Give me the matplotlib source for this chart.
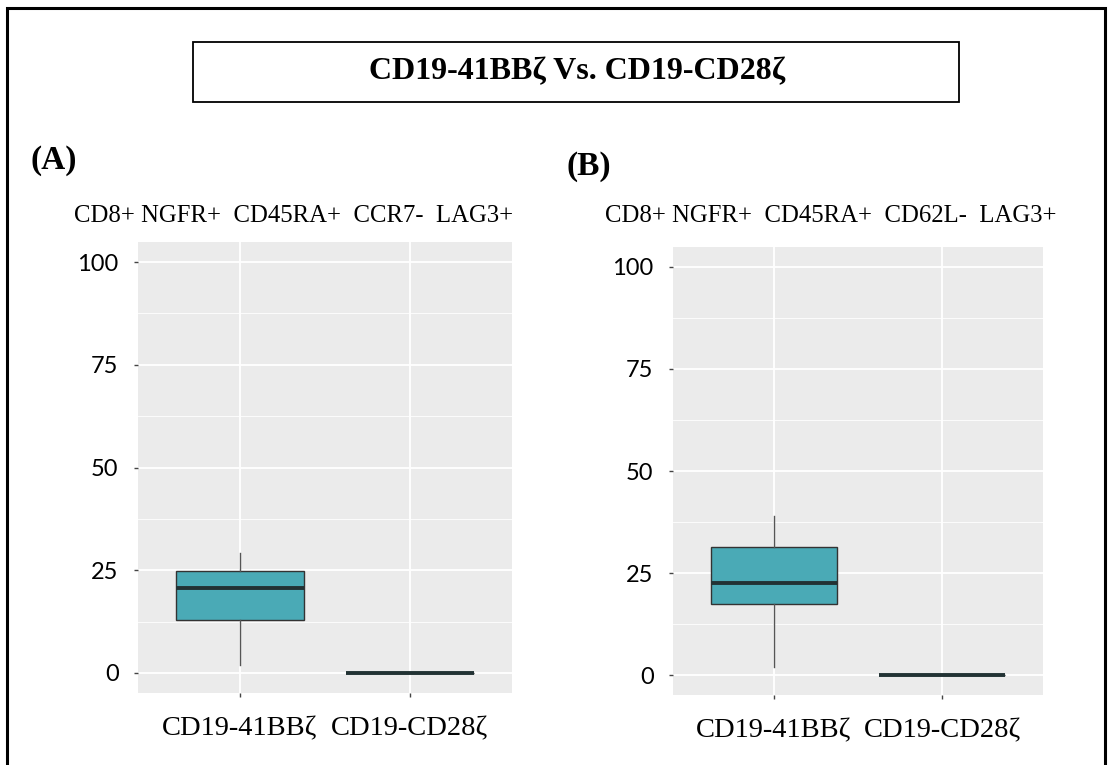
import matplotlib
matplotlib.use("Agg")
import matplotlib.pyplot as plt
from matplotlib.patches import Rectangle
from matplotlib.ticker import MultipleLocator

# Box summary statistics for each construct (percent of cells)
groups = ["CD19-41BBζ", "CD19-CD28ζ"]

# Panel A: CD8+ NGFR+ CD45RA+ CCR7- LAG3+
a_whislo = [1.8, 0.0]
a_q1 = [12.8, 0.0]
a_med = [20.6, 0.0]
a_q3 = [24.9, 0.0]
a_whishi = [29.1, 0.0]

# Panel B: CD8+ NGFR+ CD45RA+ CD62L- LAG3+
b_whislo = [1.9, 0.0]
b_q1 = [17.5, 0.0]
b_med = [22.6, 0.0]
b_q3 = [31.4, 0.0]
b_whishi = [39.0, 0.0]

y_ticks = [0, 25, 50, 75, 100]

title = "CD19-41BBζ Vs. CD19-CD28ζ"
sub_a = "CD8+ NGFR+  CD45RA+  CCR7-  LAG3+"
sub_b = "CD8+ NGFR+  CD45RA+  CD62L-  LAG3+"

SERIF = ["Liberation Serif", "DejaVu Serif"]
SANS = ["Lato", "DejaVu Sans"]

W, H = 1113, 765
fig = plt.figure(figsize=(W / 100, H / 100), dpi=100)
fig.patch.set_facecolor("white")


def px_rect(l, t, r, b):
    return [l / W, 1 - b / H, (r - l) / W, (b - t) / H]


def draw_panel(ax, whislo, q1, med, q3, whishi):
    stats = []
    for i, g in enumerate(groups):
        stats.append(dict(label=g, whislo=whislo[i], q1=q1[i], med=med[i],
                          q3=q3[i], whishi=whishi[i], fliers=[]))
    ax.set_facecolor("#EBEBEB")
    ax.bxp(stats, positions=[1, 2], widths=0.75, patch_artist=True,
           showcaps=False, showfliers=False,
           boxprops=dict(facecolor="#4AAAB6", edgecolor="#333333", linewidth=1.0),
           medianprops=dict(color="#223234", linewidth=2.8, solid_capstyle="butt"),
           whiskerprops=dict(color="#555555", linewidth=1.0),
           zorder=3)
    ax.set_xlim(0.4, 2.6)
    ax.set_ylim(-4.9, 104.9)
    ax.set_yticks(y_ticks)
    ax.yaxis.set_minor_locator(MultipleLocator(12.5))
    ax.set_xticks([1, 2])
    ax.set_xticklabels(groups, family=SERIF, fontsize=20.5)
    for lab in ax.get_yticklabels():
        lab.set_family(SANS)
        lab.set_fontsize(17)
    ax.grid(which="major", color="white", linewidth=1.3, zorder=0)
    ax.grid(which="minor", axis="y", color="white", linewidth=0.6, zorder=0)
    ax.set_axisbelow(True)
    for s in ax.spines.values():
        s.set_visible(False)
    ax.tick_params(axis="both", which="major", length=3, width=1.0, color="#444444")
    ax.tick_params(axis="y", which="minor", length=0)
    ax.tick_params(axis="y", pad=11, labelcolor="black")
    ax.tick_params(axis="x", pad=14, labelcolor="black")


ax_a = fig.add_axes(px_rect(138, 242, 512, 693))
draw_panel(ax_a, a_whislo, a_q1, a_med, a_q3, a_whishi)

ax_b = fig.add_axes(px_rect(673, 247, 1043, 695))
draw_panel(ax_b, b_whislo, b_q1, b_med, b_q3, b_whishi)

# Outer frame
fig.patches.append(Rectangle((7 / W, 1 - 790 / H), (1105 - 7) / W, (790 - 8) / H,
                             transform=fig.transFigure, fill=False,
                             edgecolor="black", linewidth=2.2))
# Title box
fig.patches.append(Rectangle((193 / W, 1 - 102 / H), (959 - 193) / W, (102 - 42) / H,
                             transform=fig.transFigure, fill=False,
                             edgecolor="black", linewidth=1.3))
fig.text(577 / W, 1 - 72 / H, title, family=SERIF, fontweight="bold",
         fontsize=23, ha="center", va="center")

fig.text(30 / W, 1 - 160 / H, "(A)", family=SERIF, fontweight="bold",
         fontsize=24, ha="left", va="center")
fig.text(566 / W, 1 - 167 / H, "(B)", family=SERIF, fontweight="bold",
         fontsize=24, ha="left", va="center")

fig.text(74 / W, 1 - 216 / H, sub_a, family=SERIF, fontsize=17.8,
         ha="left", va="center")
fig.text(605 / W, 1 - 216 / H, sub_b, family=SERIF, fontsize=17.8,
         ha="left", va="center")

fig.savefig("out.png", dpi=100)
